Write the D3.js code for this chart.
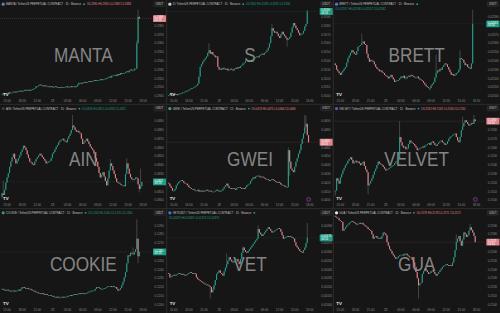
<!DOCTYPE html>
<html>
<head>
<meta charset="utf-8">
<script src="https://cdn.jsdelivr.net/npm/d3@7"></script>
<style>
  body { margin: 0; background: #161616; }
  svg { display: block; font-family: "Liberation Sans", Arial, sans-serif; }
</style>
</head>
<body>
<svg id="chart" width="500" height="313"></svg>
<script>
// 15 minute candles, same session for every pane
const sessionStart = new Date(2025, 0, 27, 14, 0);

const symbols = ['MANTA', 'S', 'BRETT', 'AIN', 'GWEI', 'VELVET', 'COOKIE', 'VET', 'GUA'];
const tickers = ['MANTA', 'S', 'BRETT', 'AIN', 'GWEI', 'VELVET', 'COOKIE', 'VETUSDT', 'GUA'];

// visible price range of each pane (from the right axis)
const priceRanges = [
  [0.2300, 0.2400], [0.3100, 0.3200], [0.02500, 0.02600],
  [0.0800, 0.0900], [0.0400, 0.0500], [0.1500, 0.1600],
  [0.1200, 0.1300], [0.02400, 0.02500], [0.2500, 0.2600]
];

const mantaClose = [
  0.2302,0.2303,0.2302,0.2303,0.2303,0.2304,0.2303,0.2304,0.2304,0.2305,
  0.2305,0.2304,0.2305,0.2306,0.2306,0.2305,0.2306,0.2306,0.2307,0.2306,
  0.2307,0.2307,0.2306,0.2307,0.2308,0.2308,0.2309,0.2311,0.2311,0.2312,
  0.2313,0.2312,0.2312,0.2311,0.2312,0.2311,0.2311,0.2311,0.2310,0.2311,
  0.2310,0.2310,0.2311,0.2310,0.2310,0.2310,0.2309,0.2310,0.2310,0.2310,
  0.2310,0.2311,0.2310,0.2310,0.2311,0.2310,0.2311,0.2311,0.2310,0.2311,
  0.2313,0.2315,0.2315,0.2314,0.2315,0.2316,0.2315,0.2316,0.2316,0.2317,
  0.2316,0.2317,0.2317,0.2318,0.2317,0.2318,0.2318,0.2318,0.2319,0.2318,
  0.2319,0.2319,0.2320,0.2320,0.2321,0.2322,0.2321,0.2323,0.2323,0.2324,
  0.2324,0.2323,0.2325,0.2324,0.2326,0.2325,0.2326,0.2326,0.2327,0.2328,
  0.2327,0.2329,0.2330,0.2329,0.2329,0.2331,0.2331,0.2360,0.2390,0.2388
];
const mantaHighs = [[107, 0.2363], [108, 0.2398]];
const mantaLows = [];

const sClose = [
  0.3101,0.3102,0.3101,0.3101,0.3102,0.3101,0.3102,0.3101,0.3102,0.3103,
  0.3103,0.3104,0.3104,0.3105,0.3106,0.3106,0.3107,0.3108,0.3109,0.3109,
  0.3110,0.3111,0.3112,0.3114,0.3122,0.3133,0.3136,0.3139,0.3141,0.3143,
  0.3145,0.3149,0.3152,0.3148,0.3150,0.3147,0.3146,0.3144,0.3145,0.3133,
  0.3130,0.3131,0.3130,0.3132,0.3131,0.3130,0.3131,0.3129,0.3130,0.3131,
  0.3130,0.3129,0.3131,0.3132,0.3131,0.3133,0.3132,0.3134,0.3135,0.3137,
  0.3138,0.3140,0.3141,0.3140,0.3139,0.3141,0.3139,0.3142,0.3143,0.3144,
  0.3145,0.3144,0.3146,0.3147,0.3148,0.3147,0.3149,0.3150,0.3152,0.3155,
  0.3160,0.3168,0.3177,0.3174,0.3172,0.3173,0.3171,0.3168,0.3166,0.3170,
  0.3173,0.3170,0.3168,0.3166,0.3164,0.3165,0.3167,0.3172,0.3178,0.3183,
  0.3180,0.3177,0.3175,0.3172,0.3169,0.3170,0.3171,0.3174,0.3179,0.3182,
  0.3196
];
const sHighs = [[32, 0.3160], [82, 0.3182], [110, 0.3198]];
const sLows = [[94, 0.3156]];

const brettClose = [
  0.02535,0.02530,0.02528,0.02526,0.02524,0.02527,0.02529,0.02531,0.02533,0.02538,
  0.02543,0.02546,0.02549,0.02552,0.02550,0.02548,0.02547,0.02551,0.02556,0.02557,
  0.02558,0.02560,0.02562,0.02559,0.02558,0.02548,0.02543,0.02539,0.02541,0.02540,
  0.02539,0.02536,0.02533,0.02531,0.02530,0.02528,0.02529,0.02527,0.02526,0.02524,
  0.02523,0.02522,0.02520,0.02522,0.02524,0.02521,0.02519,0.02516,0.02517,0.02518,
  0.02518,0.02520,0.02522,0.02521,0.02523,0.02520,0.02520,0.02522,0.02523,0.02522,
  0.02524,0.02523,0.02522,0.02521,0.02521,0.02522,0.02520,0.02519,0.02518,0.02517,
  0.02515,0.02513,0.02511,0.02510,0.02509,0.02509,0.02512,0.02514,0.02516,0.02521,
  0.02526,0.02529,0.02528,0.02531,0.02530,0.02533,0.02535,0.02537,0.02536,0.02533,
  0.02530,0.02527,0.02524,0.02525,0.02523,0.02524,0.02526,0.02527,0.02530,0.02543,
  0.02542,0.02541,0.02538,0.02535,0.02536,0.02533,0.02532,0.02531,0.02537,0.02582
];
const brettHighs = [[21, 0.02571], [80, 0.02547], [99, 0.02552], [109, 0.02598]];
const brettLows = [[75, 0.02506]];

const ainClose = [
  0.0808,0.0806,0.0812,0.0820,0.0826,0.0831,0.0838,0.0844,0.0849,0.0853,
  0.0847,0.0842,0.0845,0.0848,0.0851,0.0855,0.0858,0.0862,0.0860,0.0857,
  0.0852,0.0848,0.0844,0.0843,0.0841,0.0840,0.0844,0.0847,0.0849,0.0851,
  0.0853,0.0851,0.0849,0.0847,0.0845,0.0842,0.0843,0.0844,0.0845,0.0848,
  0.0853,0.0855,0.0858,0.0861,0.0863,0.0866,0.0868,0.0869,0.0870,0.0868,
  0.0867,0.0866,0.0870,0.0873,0.0876,0.0880,0.0885,0.0883,0.0880,0.0878,
  0.0879,0.0877,0.0876,0.0870,0.0864,0.0866,0.0868,0.0870,0.0867,0.0864,
  0.0861,0.0859,0.0857,0.0853,0.0848,0.0844,0.0838,0.0831,0.0826,0.0829,
  0.0832,0.0827,0.0822,0.0817,0.0825,0.0834,0.0842,0.0839,0.0834,0.0830,
  0.0825,0.0821,0.0820,0.0819,0.0818,0.0817,0.0817,0.0816,0.0830,0.0842,
  0.0836,0.0830,0.0826,0.0824,0.0823,0.0824,0.0826,0.0825,0.0818,0.0813,
  0.0816,0.0821
];
const ainHighs = [[1, 0.0822], [56, 0.0897], [86, 0.0847], [99, 0.0848], [110, 0.0836]];
const ainLows = [[0, 0.0802], [109, 0.0809]];

const gweiClose = [
  0.0419,0.0416,0.0414,0.0411,0.0411,0.0413,0.0417,0.0419,0.0421,0.0422,
  0.0423,0.0422,0.0420,0.0419,0.0419,0.0417,0.0415,0.0414,0.0413,0.0413,
  0.0412,0.0411,0.0411,0.0412,0.0410,0.0411,0.0410,0.0411,0.0410,0.0411,
  0.0412,0.0411,0.0410,0.0411,0.0410,0.0410,0.0410,0.0411,0.0412,0.0411,
  0.0410,0.0411,0.0411,0.0413,0.0415,0.0417,0.0419,0.0416,0.0414,0.0414,
  0.0413,0.0414,0.0413,0.0412,0.0414,0.0415,0.0415,0.0414,0.0413,0.0414,
  0.0413,0.0415,0.0417,0.0418,0.0419,0.0422,0.0424,0.0426,0.0425,0.0427,
  0.0428,0.0428,0.0427,0.0426,0.0427,0.0426,0.0425,0.0424,0.0424,0.0423,
  0.0422,0.0423,0.0424,0.0423,0.0422,0.0421,0.0420,0.0421,0.0420,0.0418,
  0.0417,0.0417,0.0416,0.0415,0.0415,0.0457,0.0444,0.0436,0.0434,0.0432,
  0.0438,0.0444,0.0448,0.0453,0.0457,0.0464,0.0470,0.0476,0.0483,0.0487,
  0.0474,0.0466
];
const gweiHighs = [[95, 0.0460], [108, 0.0497], [109, 0.0496]];
const gweiLows = [[96, 0.0428]];

const velvetClose = [
  0.1511,0.1525,0.1522,0.1519,0.1526,0.1530,0.1534,0.1537,0.1540,0.1542,
  0.1545,0.1547,0.1549,0.1546,0.1542,0.1544,0.1545,0.1543,0.1544,0.1542,
  0.1540,0.1542,0.1544,0.1539,0.1535,0.1532,0.1517,0.1519,0.1522,0.1525,
  0.1529,0.1533,0.1536,0.1540,0.1544,0.1542,0.1541,0.1540,0.1538,0.1536,
  0.1534,0.1535,0.1536,0.1537,0.1538,0.1539,0.1540,0.1542,0.1544,0.1545,
  0.1548,0.1572,0.1566,0.1562,0.1560,0.1561,0.1558,0.1559,0.1564,0.1568,
  0.1566,0.1565,0.1564,0.1562,0.1560,0.1557,0.1558,0.1559,0.1560,0.1561,
  0.1560,0.1562,0.1563,0.1564,0.1565,0.1563,0.1566,0.1567,0.1565,0.1563,
  0.1562,0.1564,0.1566,0.1567,0.1568,0.1566,0.1565,0.1563,0.1564,0.1567,
  0.1570,0.1572,0.1573,0.1574,0.1575,0.1576,0.1572,0.1568,0.1566,0.1572,
  0.1580,0.1584,0.1588,0.1591,0.1589,0.1587,0.1585,0.1586,0.1588,0.1587,
  0.1592,0.1590
];
const velvetHighs = [[51, 0.1590], [101, 0.1595], [110, 0.1597]];
const velvetLows = [[0, 0.1505], [26, 0.1507]];

const cookieClose = [
  0.1218,0.1217,0.1217,0.1216,0.1217,0.1216,0.1216,0.1215,0.1216,0.1216,
  0.1215,0.1216,0.1216,0.1217,0.1216,0.1218,0.1220,0.1220,0.1219,0.1218,
  0.1219,0.1218,0.1218,0.1217,0.1216,0.1216,0.1215,0.1214,0.1214,0.1213,
  0.1213,0.1212,0.1213,0.1212,0.1211,0.1212,0.1211,0.1211,0.1211,0.1210,
  0.1210,0.1209,0.1209,0.1208,0.1209,0.1208,0.1208,0.1209,0.1209,0.1208,
  0.1209,0.1209,0.1210,0.1210,0.1211,0.1210,0.1211,0.1212,0.1211,0.1212,
  0.1212,0.1213,0.1212,0.1213,0.1213,0.1212,0.1213,0.1213,0.1214,0.1215,
  0.1215,0.1216,0.1216,0.1216,0.1218,0.1220,0.1220,0.1219,0.1218,0.1218,
  0.1218,0.1219,0.1219,0.1220,0.1221,0.1221,0.1221,0.1220,0.1221,0.1220,
  0.1220,0.1218,0.1216,0.1217,0.1219,0.1222,0.1226,0.1231,0.1237,0.1247,
  0.1256,0.1255,0.1259,0.1258,0.1257,0.1260,0.1263,0.1275,0.1255,0.1260
];
const cookieHighs = [[104, 0.1265], [107, 0.1297]];
const cookieLows = [[108, 0.1247]];

const vetClose = [
  0.02435,0.02431,0.02432,0.02433,0.02434,0.02433,0.02434,0.02435,0.02436,0.02435,
  0.02434,0.02435,0.02434,0.02433,0.02434,0.02435,0.02436,0.02437,0.02436,0.02435,
  0.02436,0.02435,0.02431,0.02429,0.02428,0.02427,0.02426,0.02425,0.02424,0.02423,
  0.02423,0.02422,0.02421,0.02420,0.02414,0.02417,0.02422,0.02428,0.02435,0.02437,
  0.02439,0.02436,0.02435,0.02433,0.02438,0.02442,0.02446,0.02450,0.02454,0.02451,
  0.02449,0.02448,0.02450,0.02452,0.02452,0.02449,0.02446,0.02452,0.02459,0.02465,
  0.02462,0.02460,0.02459,0.02461,0.02463,0.02465,0.02467,0.02469,0.02471,0.02473,
  0.02475,0.02486,0.02482,0.02480,0.02478,0.02480,0.02482,0.02484,0.02486,0.02488,
  0.02486,0.02484,0.02482,0.02483,0.02484,0.02485,0.02486,0.02487,0.02486,0.02483,
  0.02479,0.02475,0.02476,0.02477,0.02478,0.02477,0.02478,0.02477,0.02476,0.02475,
  0.02471,0.02467,0.02465,0.02463,0.02461,0.02460,0.02459,0.02462,0.02465,0.02470,
  0.02476
];
const vetHighs = [[46, 0.02458], [71, 0.02490], [110, 0.02493]];
const vetLows = [[33, 0.02407]];

const guaClose = [
  0.2600,0.2599,0.2598,0.2596,0.2595,0.2594,0.2584,0.2586,0.2588,0.2590,
  0.2591,0.2593,0.2594,0.2595,0.2594,0.2593,0.2592,0.2591,0.2592,0.2593,
  0.2592,0.2593,0.2591,0.2590,0.2589,0.2588,0.2586,0.2585,0.2584,0.2580,
  0.2575,0.2577,0.2578,0.2576,0.2575,0.2576,0.2575,0.2578,0.2582,0.2581,
  0.2579,0.2571,0.2567,0.2563,0.2561,0.2558,0.2556,0.2554,0.2552,0.2553,
  0.2555,0.2556,0.2556,0.2557,0.2556,0.2558,0.2558,0.2556,0.2555,0.2554,
  0.2554,0.2551,0.2548,0.2543,0.2537,0.2530,0.2522,0.2524,0.2525,0.2535,
  0.2538,0.2541,0.2539,0.2537,0.2535,0.2536,0.2538,0.2539,0.2537,0.2535,
  0.2533,0.2535,0.2537,0.2539,0.2541,0.2543,0.2544,0.2545,0.2546,0.2545,
  0.2544,0.2545,0.2544,0.2548,0.2554,0.2562,0.2571,0.2575,0.2578,0.2572,
  0.2567,0.2574,0.2582,0.2580,0.2577,0.2579,0.2584,0.2588,0.2585,0.2582,
  0.2578,0.2571
];
const guaHighs = [[96, 0.2580], [107, 0.2592]];
const guaLows = [[66, 0.2507]];

const firstOpens = [0.2302, 0.3101, 0.02537, 0.0804, 0.0420, 0.1511, 0.1218, 0.02436, 0.2601];

const closes = [mantaClose, sClose, brettClose, ainClose, gweiClose, velvetClose, cookieClose, vetClose, guaClose];
const highSpikes = [mantaHighs, sHighs, brettHighs, ainHighs, gweiHighs, velvetHighs, cookieHighs, vetHighs, guaHighs];
const lowSpikes = [mantaLows, sLows, brettLows, ainLows, gweiLows, velvetLows, cookieLows, vetLows, guaLows];

// ---- layout / style ----
const W = 500, H = 313;
const paneW = W / 3, paneH = H / 3;
const plotW = 152;
const plotTop = 8, plotBottom = 96;
const upColor = '#1f9e86', downColor = '#e0838a';
const textColor = '#8c8c8c';
const wrapHeader = new Set(['BRETT', 'VET']);
const iconColors = ['#6f7fa8', '#c9c9c9', '#5b6ee0', '#3b3b3b', '#4fa06a', '#7d4bb8', '#3a9d5a', '#3a7bd5', '#e8e8e8'];
const countdown = '04:16';

const svg = d3.select('#chart');
svg.append('rect').attr('width', W).attr('height', H).attr('fill', '#161616');

const step = 15 * 60 * 1000;
const x = d3.scaleTime()
  .domain([sessionStart, new Date(sessionStart.getTime() + 120 * step)])
  .range([2, 2 + 120 * 1.26]);
const timeTicks = x.ticks(d3.timeHour.every(3));
const fmtTime = (d) => d.getHours() === 0 ? d3.timeFormat('%-d')(d) : d3.timeFormat('%H:%M')(d);

function buildCandles(idx) {
  const c = closes[idx];
  const highs = new Map(highSpikes[idx]);
  const lows = new Map(lowSpikes[idx]);
  return c.map((close, i) => {
    const open = i === 0 ? firstOpens[idx] : c[i - 1];
    let high = Math.max(open, close), low = Math.min(open, close);
    if (highs.has(i)) high = Math.max(high, highs.get(i));
    if (lows.has(i)) low = Math.min(low, lows.get(i));
    return { t: new Date(sessionStart.getTime() + i * step), open, close, high, low };
  });
}

symbols.forEach((name, idx) => {
  const col = idx % 3, row = Math.floor(idx / 3);
  const g = svg.append('g').attr('transform', `translate(${col * paneW},${row * paneH})`);
  const data = buildCandles(idx);
  const last = data[data.length - 1];
  const lastUp = last.close >= last.open;
  const lastColor = lastUp ? upColor : downColor;
  const decimals = priceRanges[idx][1] < 0.05 ? 5 : 4;
  const fmt = d3.format(`.${decimals}f`);

  const y = d3.scaleLinear().domain(priceRanges[idx]).range([plotBottom, plotTop]);

  const clipId = `clip${idx}`;
  g.append('clipPath').attr('id', clipId)
    .append('rect').attr('x', 0).attr('y', 0).attr('width', plotW).attr('height', paneH - 6);

  // watermark
  g.append('text')
    .attr('transform', `translate(${paneW / 2},${55}) scale(0.86,1)`)
    .attr('text-anchor', 'middle')
    .attr('dominant-baseline', 'central')
    .attr('font-size', 20)
    .attr('fill', '#858585')
    .text(name);

  const plot = g.append('g').attr('clip-path', `url(#${clipId})`);

  // last price line
  plot.append('line')
    .attr('x1', 0).attr('x2', plotW)
    .attr('y1', y(last.close)).attr('y2', y(last.close))
    .attr('stroke', lastColor).attr('stroke-opacity', 0.45)
    .attr('stroke-width', 0.5).attr('stroke-dasharray', '1,1');

  const candle = plot.selectAll('g.candle').data(data).join('g').attr('class', 'candle');
  candle.append('line')
    .attr('x1', (d) => x(d.t)).attr('x2', (d) => x(d.t))
    .attr('y1', (d) => y(d.high)).attr('y2', (d) => y(d.low))
    .attr('stroke', '#8a8a8a').attr('stroke-width', 0.4);
  candle.append('rect')
    .attr('x', (d) => x(d.t) - 0.55)
    .attr('width', 1.1)
    .attr('y', (d) => y(Math.max(d.open, d.close)))
    .attr('height', (d) => Math.max(0.8, Math.abs(y(d.open) - y(d.close))))
    .attr('fill', (d) => d.close >= d.open ? upColor : downColor);

  // price axis
  const lastY = y(last.close);
  const ticks = y.ticks(9).filter((v) => y(v) > 10 && y(v) < plotBottom + 1 && Math.abs(y(v) - lastY) > 5);
  g.append('g').selectAll('text').data(ticks).join('text')
    .attr('x', plotW + 2.5).attr('y', (d) => y(d) + 1.1)
    .attr('font-size', 3).attr('fill', textColor)
    .text(fmt);

  // USDT box
  g.append('rect').attr('x', plotW + 2).attr('y', 1.8).attr('width', 11).attr('height', 4.6)
    .attr('fill', '#1e1e1e').attr('stroke', '#444').attr('stroke-width', 0.4).attr('rx', 0.6);
  g.append('text').attr('x', plotW + 7.5).attr('y', 5).attr('text-anchor', 'middle')
    .attr('font-size', 2.8).attr('fill', '#c8c8c8').text('USDT');

  // current price tag
  g.append('rect').attr('x', plotW + 1).attr('y', lastY - 3.4).attr('width', paneW - plotW - 1.5).attr('height', 6.8)
    .attr('fill', lastColor).attr('rx', 0.6);
  g.append('text').attr('x', plotW + 2.5).attr('y', lastY - 0.3)
    .attr('font-size', 2.8).attr('fill', '#fff').text(fmt(last.close));
  g.append('text').attr('x', plotW + 2.5).attr('y', lastY + 2.6)
    .attr('font-size', 2.8).attr('fill', '#fff').text(countdown);

  // time axis
  g.append('g').selectAll('text').data(timeTicks).join('text')
    .attr('x', (d) => x(d)).attr('y', paneH - 2.2)
    .attr('text-anchor', 'middle')
    .attr('font-size', 3).attr('fill', textColor)
    .text(fmtTime);

  // header
  g.append('circle').attr('cx', 3.2).attr('cy', 4.2).attr('r', 1.6).attr('fill', iconColors[idx]);
  const header = g.append('text').attr('x', 6).attr('y', 5.3)
    .attr('font-size', 2.8).attr('fill', '#c4c4c4')
    .text(`${tickers[idx]} / TetherUS PERPETUAL CONTRACT · 15 · Binance`);
  const hw = header.node().getComputedTextLength();
  const ohlc = `O${fmt(last.open)} H${fmt(last.high)} L${fmt(last.low)} C${fmt(last.close)}`;
  g.append('circle').attr('cx', 6 + hw + 3).attr('cy', 4.2).attr('r', 0.9).attr('fill', '#26a69a');
  const ohlcText = g.append('text')
    .attr('x', 6 + hw + 5.5).attr('y', 5.3)
    .attr('font-size', 2.8).attr('fill', lastColor)
    .text(ohlc);
  const ow = ohlcText.node().getComputedTextLength();
  if (wrapHeader.has(name) || 6 + hw + 5.5 + ow > plotW - 2) {
    ohlcText.attr('x', 2).attr('y', 10);
  }

  // TradingView logo
  g.append('text').attr('x', 3).attr('y', paneH - 8.2)
    .attr('font-size', 4.4).attr('font-weight', 700).attr('fill', '#e6e6e6').text('TV');

  if (name === 'GWEI' || name === 'VELVET') {
    g.append('circle').attr('cx', 142).attr('cy', paneH - 9.3).attr('r', 2)
      .attr('fill', '#2b1836').attr('stroke', '#9b4fd0').attr('stroke-width', 0.5);
  }
});

// pane separators
svg.append('g').selectAll('line').data([1, 2]).join('line')
  .attr('x1', (d) => d * paneW).attr('x2', (d) => d * paneW)
  .attr('y1', 0).attr('y2', H)
  .attr('stroke', '#2c2c2c').attr('stroke-width', 1);
svg.append('g').selectAll('line').data([1, 2]).join('line')
  .attr('x1', 0).attr('x2', W)
  .attr('y1', (d) => d * paneH).attr('y2', (d) => d * paneH)
  .attr('stroke', '#2c2c2c').attr('stroke-width', 1);
</script>
</body>
</html>
